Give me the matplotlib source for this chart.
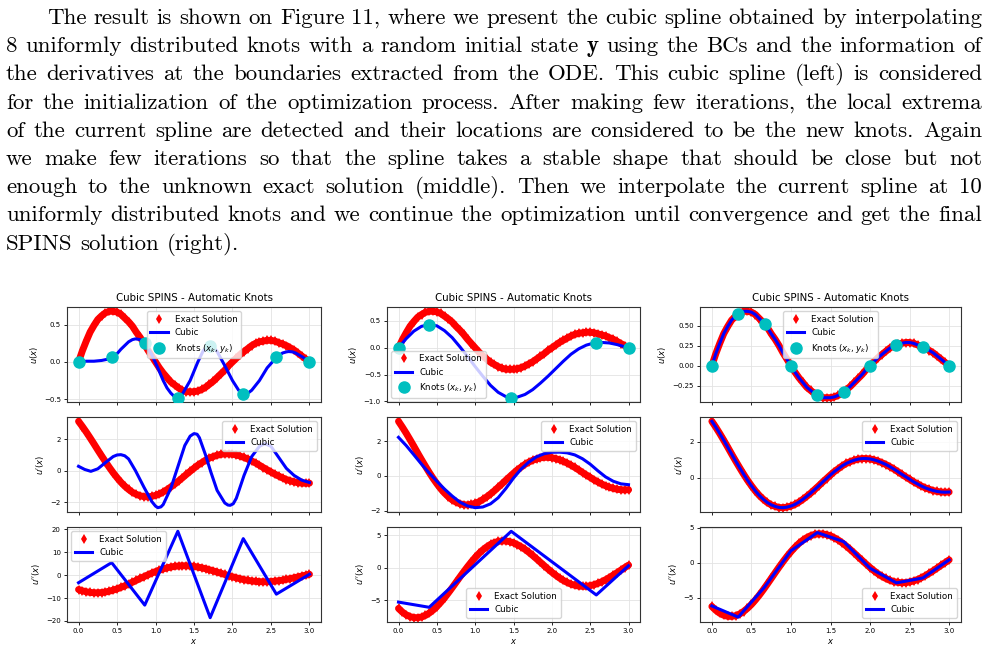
import matplotlib
matplotlib.use("Agg")
import matplotlib.pyplot as plt
from matplotlib.ticker import MultipleLocator

W, H = 988, 654

# ---- paragraph text -------------------------------------------------------
para_lines = [
    "The result is shown on Figure 11, where we present the cubic spline obtained by interpolating",
    "8 uniformly distributed knots with a random initial state **y** using the BCs and the information of",
    "the derivatives at the boundaries extracted from the ODE. This cubic spline (left) is considered",
    "for the initialization of the optimization process. After making few iterations, the local extrema",
    "of the current spline are detected and their locations are considered to be the new knots. Again",
    "we make few iterations so that the spline takes a stable shape that should be close but not",
    "enough to the unknown exact solution (middle). Then we interpolate the current spline at 10",
    "uniformly distributed knots and we continue the optimization until convergence and get the final",
    "SPINS solution (right).",
]

# ---- exact solution (step 0.05) --------------------------------------------
x_exact = [0.00, 0.05, 0.10, 0.15, 0.20, 0.25, 0.30, 0.35, 0.40, 0.45,
           0.50, 0.55, 0.60, 0.65, 0.70, 0.75, 0.80, 0.85, 0.90, 0.95,
           1.00, 1.05, 1.10, 1.15, 1.20, 1.25, 1.30, 1.35, 1.40, 1.45,
           1.50, 1.55, 1.60, 1.65, 1.70, 1.75, 1.80, 1.85, 1.90, 1.95,
           2.00, 2.05, 2.10, 2.15, 2.20, 2.25, 2.30, 2.35, 2.40, 2.45,
           2.50, 2.55, 2.60, 2.65, 2.70, 2.75, 2.80, 2.85, 2.90, 2.95, 3.00]
u_exact = [0.00, 0.15, 0.28, 0.40, 0.49, 0.57, 0.62, 0.66, 0.68, 0.68,
           0.67, 0.64, 0.59, 0.54, 0.48, 0.40, 0.33, 0.25, 0.16, 0.08,
           0.00, -0.08, -0.15, -0.21, -0.27, -0.31, -0.35, -0.38, -0.40, -0.40,
           -0.40, -0.39, -0.37, -0.34, -0.30, -0.26, -0.21, -0.16, -0.11, -0.05,
           0.00, 0.05, 0.10, 0.14, 0.18, 0.22, 0.25, 0.27, 0.28, 0.29,
           0.29, 0.28, 0.26, 0.24, 0.22, 0.19, 0.16, 0.12, 0.08, 0.04, 0.00]
du_exact = [3.14, 2.81, 2.46, 2.09, 1.71, 1.32, 0.94, 0.57, 0.21, -0.13,
            -0.44, -0.73, -0.98, -1.19, -1.37, -1.50, -1.59, -1.65, -1.66, -1.63,
            -1.57, -1.48, -1.35, -1.20, -1.03, -0.85, -0.65, -0.45, -0.24, -0.04,
            0.16, 0.35, 0.51, 0.67, 0.80, 0.90, 0.98, 1.04, 1.07, 1.07,
            1.05, 1.00, 0.93, 0.84, 0.74, 0.62, 0.49, 0.35, 0.20, 0.06,
            -0.08, -0.22, -0.34, -0.46, -0.56, -0.64, -0.71, -0.76, -0.79, -0.80, -0.79]
d2u_exact = [-6.28, -6.83, -7.25, -7.53, -7.68, -7.70, -7.59, -7.36, -7.00, -6.54,
             -5.99, -5.35, -4.65, -3.89, -3.09, -2.27, -1.45, -0.64, 0.14, 0.88,
             1.57, 2.19, 2.74, 3.20, 3.58, 3.86, 4.04, 4.12, 4.11, 4.01,
             3.82, 3.55, 3.22, 2.82, 2.37, 1.88, 1.37, 0.84, 0.32, -0.20,
             -0.70, -1.16, -1.59, -1.96, -2.27, -2.53, -2.71, -2.83, -2.88, -2.86,
             -2.77, -2.62, -2.42, -2.16, -1.86, -1.52, -1.15, -0.77, -0.38, 0.01, 0.39]

# ---- left column: 8 uniform knots, random initial state ------------------
knots1_x = [0.0, 0.43, 0.86, 1.29, 1.71, 2.14, 2.57, 3.0]
knots1_y = [0.0, 0.06, 0.25, -0.48, 0.21, -0.43, 0.06, 0.0]
spl1_x = [0.0, 0.1, 0.2, 0.3, 0.37, 0.43, 0.5, 0.55, 0.6, 0.65, 0.7, 0.74, 0.8, 0.86,
          0.95, 1.03, 1.1, 1.15, 1.2, 1.24, 1.27, 1.31, 1.35, 1.45, 1.55, 1.62, 1.67,
          1.71, 1.75, 1.8, 1.9, 2.0, 2.08, 2.12, 2.16, 2.2, 2.25, 2.35, 2.45, 2.57,
          2.65, 2.7, 2.73, 2.78, 2.82, 2.92, 3.0]
spl1_u = [0.0, 0.01, 0.01, 0.02, 0.035, 0.06, 0.11, 0.17, 0.22, 0.27, 0.30, 0.31, 0.30,
          0.25, 0.10, -0.08, -0.25, -0.35, -0.42, -0.46, -0.48, -0.47, -0.43, -0.25,
          0.0, 0.15, 0.2, 0.21, 0.2, 0.14, -0.05, -0.25, -0.38, -0.42, -0.43, -0.42,
          -0.38, -0.25, -0.08, 0.06, 0.12, 0.135, 0.14, 0.135, 0.12, 0.06, 0.0]
spl1_dx = [0.0, 0.08, 0.16, 0.25, 0.35, 0.45, 0.5, 0.55, 0.6, 0.65, 0.74, 0.85, 0.95,
           1.0, 1.03, 1.07, 1.1, 1.2, 1.28, 1.38, 1.45, 1.5, 1.54, 1.57, 1.65, 1.72,
           1.8, 1.9, 1.94, 1.97, 2.01, 2.05, 2.15, 2.25, 2.35, 2.42, 2.5, 2.6, 2.7,
           2.8, 2.9, 3.0]
spl1_du = [0.28, 0.08, -0.04, 0.12, 0.52, 0.9, 1.0, 1.02, 0.95, 0.75, 0.0, -1.05,
           -1.95, -2.25, -2.35, -2.3, -2.15, -1.1, 0.1, 1.6, 2.2, 2.36, 2.32, 2.1, 1.0,
           -0.1, -1.25, -2.05, -2.18, -2.2, -2.1, -1.75, -0.3, 0.9, 1.55, 1.72, 1.55,
           0.85, 0.15, -0.3, -0.6, -0.75]
spl1_d2u = [-3.3, 5.5, -13.1, 19.2, -18.6, 16.0, -8.3, 0.4]

# ---- middle column: knots at the local extrema ----------------------------
knots2_x = [0.0, 0.40, 1.47, 2.58, 3.0]
knots2_y = [0.0, 0.43, -0.93, 0.09, 0.0]
spl2_x = [0.0, 0.1, 0.2, 0.3, 0.4, 0.5, 0.6, 0.7, 0.8, 0.9, 1.0, 1.1, 1.2, 1.3, 1.4,
          1.47, 1.55, 1.65, 1.75, 1.85, 1.95, 2.05, 2.15, 2.25, 2.35, 2.45, 2.55,
          2.65, 2.75, 2.85, 2.95, 3.0]
spl2_u = [0.0, 0.17, 0.31, 0.40, 0.43, 0.41, 0.32, 0.19, 0.02, -0.16, -0.35, -0.53,
          -0.70, -0.83, -0.91, -0.93, -0.92, -0.87, -0.78, -0.66, -0.53, -0.39, -0.25,
          -0.12, -0.02, 0.05, 0.09, 0.10, 0.09, 0.06, 0.02, 0.0]
spl2_dx = [0.0, 0.1, 0.2, 0.3, 0.4, 0.5, 0.6, 0.7, 0.8, 0.9, 1.0, 1.1, 1.2, 1.3, 1.4,
           1.5, 1.6, 1.7, 1.8, 1.9, 2.0, 2.1, 2.2, 2.3, 2.4, 2.5, 2.6, 2.7, 2.8, 2.9, 3.0]
spl2_du = [2.22, 1.75, 1.22, 0.68, 0.17, -0.3, -0.75, -1.15, -1.5, -1.72, -1.82, -1.78,
           -1.6, -1.25, -0.72, -0.12, 0.4, 0.8, 1.1, 1.28, 1.36, 1.37, 1.33, 1.21, 0.99,
           0.68, 0.3, -0.05, -0.3, -0.45, -0.5]
spl2_d2u = [-5.3, -6.1, 5.6, -4.2, 0.3]

# ---- right column: 10 uniform knots, converged -----------------------------
knots3_x = [0.0, 0.333, 0.667, 1.0, 1.333, 1.667, 2.0, 2.333, 2.667, 3.0]
knots3_y = [0.0, 0.65, 0.52, 0.0, -0.37, -0.33, 0.0, 0.26, 0.23, 0.0]
spl3_d2u = [-6.2, -7.8, -3.5, 1.7, 4.3, 3.0, -0.8, -2.9, -2.2, 0.4]
# converged spline sits on top of the exact curve
spl3_x, spl3_u, spl3_du = x_exact, u_exact, du_exact

columns = [
    dict(left=67, right=321, kx=knots1_x, ky=knots1_y,
         sx=spl1_x, su=spl1_u, dx=spl1_dx, du=spl1_du, d2=spl1_d2u,
         loc=["upper center", "upper right", "upper left"], yt=[0.5, 2, 10], lim2=None),
    dict(left=387, right=640, kx=knots2_x, ky=knots2_y,
         sx=spl2_x, su=spl2_u, dx=spl2_dx, du=spl2_du, d2=spl2_d2u,
         loc=["lower left", "upper right", "lower center"], yt=[0.5, 2, 5], lim2=None),
    dict(left=700, right=961, kx=knots3_x, ky=knots3_y,
         sx=spl3_x, su=spl3_u, dx=spl3_x, du=spl3_du, d2=spl3_d2u,
         loc=["upper center", "upper right", "lower right"], yt=[0.25, 2, 5],
         lim2=(-8.5, 5.1)),
]
rows = [(307, 402), (417, 512), (527, 622)]
ylabels = ["$u(x)$", "$u'(x)$", "$u''(x)$"]

fig = plt.figure(figsize=(W / 100, H / 100), dpi=100)
fig.patch.set_facecolor("white")


def px_axes(x0, x1, y0, y1):
    return fig.add_axes([x0 / W, 1 - y1 / H, (x1 - x0) / W, (y1 - y0) / H])


def exact(ax, y):
    ax.plot(x_exact, y, color="red", lw=5, solid_capstyle="round", zorder=2)
    ax.plot(x_exact, y, "d", color="red", ms=5.5, mew=0, label="Exact Solution", zorder=2)


for col in columns:
    for r, (y0, y1) in enumerate(rows):
        ax = px_axes(col["left"], col["right"], y0, y1)
        if r == 0:
            exact(ax, u_exact)
            ax.plot(col["sx"], col["su"], color="blue", lw=2.2, label="Cubic", zorder=3)
            ax.plot(col["kx"], col["ky"], "o", color="c", ms=8, label="Knots $(x_k, y_k)$", zorder=4)
            ax.set_title("Cubic SPINS - Automatic Knots", fontsize=7.4, pad=4)
        elif r == 1:
            exact(ax, du_exact)
            ax.plot(col["dx"], col["du"], color="blue", lw=2.2, label="Cubic", zorder=3)
        else:
            exact(ax, d2u_exact)
            ax.plot(col["kx"], col["d2"], color="blue", lw=2.2, label="Cubic", zorder=3)
            ax.set_xlabel("$x$", fontsize=6, labelpad=2)
            if col["lim2"]:
                ax.set_ylim(*col["lim2"])
        ax.set_ylabel(ylabels[r], fontsize=6, labelpad=3)
        ax.xaxis.set_major_locator(MultipleLocator(0.5))
        ax.yaxis.set_major_locator(MultipleLocator(col["yt"][r]))
        ax.tick_params(labelsize=5, length=2.5, width=0.6, pad=2)
        if r < 2:
            ax.tick_params(labelbottom=False)
        ax.grid(True, color="#e3e3e3", lw=0.6)
        ax.set_axisbelow(True)
        for s in ax.spines.values():
            s.set_linewidth(0.8)
            s.set_color("#333333")
        ax.legend(loc=col["loc"][r], fontsize=6.3, handlelength=2.0,
                  borderpad=0.4, labelspacing=0.5)

# ---- justified paragraph --------------------------------------------------
renderer = fig.canvas.get_renderer()
fs = 16.5
x_left, x_right, x_indent = 6, 982, 47
base0, step = 24, 28.2


def place_word(word, px, py):
    fam = "cmr10"
    if word.startswith("**"):
        word, fam = word.strip("*"), "cmb10"
    t = fig.text(px / W, 1 - py / H, word, fontsize=fs, family=fam, va="baseline", ha="left")
    return t


probe_a = fig.text(0, 0, "xx", fontsize=fs, family="cmr10")
probe_b = fig.text(0, 0, "x x", fontsize=fs, family="cmr10")
space_w = probe_b.get_window_extent(renderer).width - probe_a.get_window_extent(renderer).width
probe_a.remove()
probe_b.remove()

for i, line in enumerate(para_lines):
    words = line.split(" ")
    py = base0 + i * step
    start = x_indent if i == 0 else x_left
    texts = [place_word(w, 0, py) for w in words]
    widths = [t.get_window_extent(renderer).width for t in texts]
    if i < len(para_lines) - 1:
        gap = (x_right - start - sum(widths)) / (len(words) - 1)
    else:
        gap = space_w
    px = start
    for t, w in zip(texts, widths):
        t.set_x(px / W)
        px += w + gap

fig.savefig("out.png", dpi=100, facecolor="white")
